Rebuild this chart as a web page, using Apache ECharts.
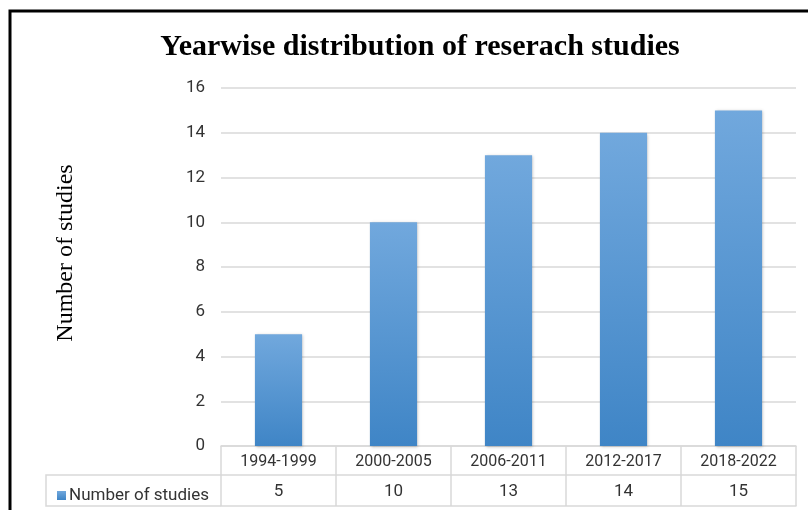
<!DOCTYPE html>
<html lang="en">
<head>
    <meta charset="UTF-8">
    <script src="https://cdn.jsdelivr.net/npm/echarts@6/dist/echarts.min.js"></script>
    <title>Yearwise distribution</title>
    <style>
        html, body { margin: 0; padding: 0; background: #fff; }
        #myChart { width: 808px; height: 510px; }
    </style>
</head>
<body>
    <div id="myChart"></div>
    <script>
        var periods = ['1994-1999', '2000-2005', '2006-2011', '2012-2017', '2018-2022'];
        var studies = [5, 10, 13, 14, 15];
        var seriesName = 'Number of studies';

        var lineColor = '#d9d9d9';
        var textColor = '#333';
        var tableFont = "'Roboto', sans-serif";

        var myChart = echarts.init(document.getElementById('myChart'));

        var option = {
            animation: false,
            title: {
                text: 'Yearwise distribution of reserach studies',
                left: 415,
                textAlign: 'center',
                top: 27,
                textStyle: {
                    fontFamily: "'Liberation Serif', serif",
                    fontWeight: 'bold',
                    fontSize: 30,
                    color: '#000'
                }
            },
            legend: {
                left: 52,
                top: 482,
                icon: 'rect',
                itemWidth: 9,
                itemHeight: 9,
                itemGap: 4,
                textStyle: { fontFamily: tableFont, fontSize: 17, color: textColor, padding: [0, 0, 0, -2] },
                data: [seriesName]
            },
            grid: { left: 221, right: 12, top: 88, bottom: 64 },
            xAxis: [{
                type: 'category',
                data: periods,
                position: 'bottom',
                axisLine: { lineStyle: { color: lineColor, width: 1.5 } },
                axisTick: { show: true, length: 60, lineStyle: { color: lineColor, width: 1.5 } },
                axisLabel: { margin: 8, fontFamily: tableFont, fontSize: 16, color: textColor }
            }, {
                type: 'category',
                data: periods,
                position: 'bottom',
                offset: 29,
                axisLine: { lineStyle: { color: lineColor, width: 1.5 } },
                axisTick: { show: false },
                axisLabel: {
                    margin: 8, fontFamily: tableFont, fontSize: 17, color: textColor,
                    formatter: function (v, i) { return String(studies[i]); }
                }
            }, {
                type: 'category',
                data: periods,
                position: 'bottom',
                offset: 60,
                axisLine: { lineStyle: { color: lineColor, width: 1.5 } },
                axisTick: { show: false },
                axisLabel: { show: false }
            }],
            yAxis: {
                type: 'value',
                min: 0,
                max: 16,
                interval: 2,
                name: 'Number of studies',
                nameLocation: 'middle',
                nameGap: 143,
                nameTextStyle: {
                    fontFamily: "'Liberation Serif', serif", fontSize: 24, color: '#000',
                    padding: [0, 0, 0, 28]
                },
                axisLine: { show: false },
                axisTick: { show: false },
                axisLabel: { margin: 16, fontFamily: tableFont, fontSize: 17, color: textColor },
                splitLine: { lineStyle: { color: lineColor, width: 1.5 } }
            },
            series: [{
                name: seriesName,
                type: 'bar',
                data: studies,
                barWidth: '41%',
                itemStyle: {
                    color: new echarts.graphic.LinearGradient(0, 0, 0, 1, [
                        { offset: 0, color: '#71a8dd' },
                        { offset: 1, color: '#3f85c6' }
                    ]),
                    shadowBlur: 3,
                    shadowColor: 'rgba(0,0,0,0.25)',
                    shadowOffsetX: 1,
                    shadowOffsetY: 1
                }
            }],
            graphic: [{
                type: 'rect',
                shape: { x: 10, y: 11, width: 830, height: 540 },
                style: { fill: null, stroke: '#000', lineWidth: 3 },
                silent: true
            }, {
                // legend cell of the data table
                type: 'polyline',
                shape: { points: [[221, 475], [46, 475], [46, 506], [221, 506]] },
                style: { fill: null, stroke: lineColor, lineWidth: 1.5 },
                silent: true
            }]
        };
        myChart.setOption(option);
    </script>
</body>
</html>
